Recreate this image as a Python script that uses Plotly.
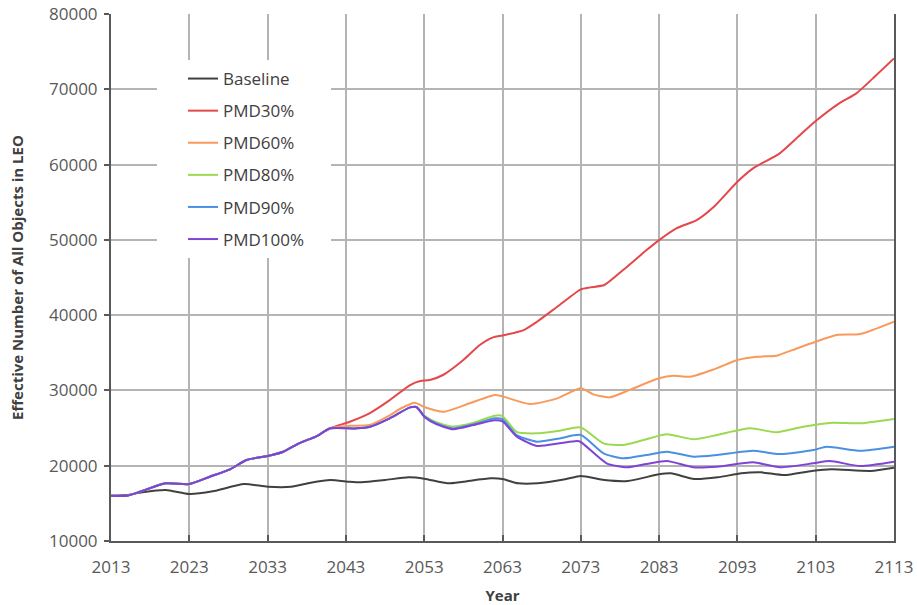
import plotly.graph_objects as go

# ---- data ----
common_years = [2013, 2015, 2016.7, 2020, 2023, 2025.6, 2028.2, 2030.3, 2033, 2035, 2037, 2039.3, 2041]
common_vals = [16000, 16000, 16550, 17660, 17570, 18540, 19520, 20760, 21290, 21860, 22970, 23940, 24970]

baseline_years = [2013, 2015, 2017, 2020, 2023, 2026, 2030, 2033, 2036, 2038.5, 2041, 2043.5, 2045, 2048,
                  2051, 2053, 2056, 2058, 2061.5, 2063, 2065, 2067.5, 2071, 2073, 2076, 2079, 2083, 2084.5,
                  2087.5, 2090.5, 2093.5, 2096, 2099, 2102.5, 2105, 2110, 2113]
baseline_vals = [16000, 16100, 16470, 16770, 16240, 16600, 17570, 17210, 17210, 17740, 18100, 17870, 17800, 18100,
                 18460, 18280, 17660, 17880, 18320, 18230, 17660, 17660, 18190, 18630, 18100, 17970, 18860, 18990,
                 18230, 18460, 18990, 19120, 18760, 19300, 19520, 19300, 19730]

pmd30_years = common_years + [2043.5, 2046, 2048.6, 2051.2, 2052.5, 2053.7, 2055.4, 2058, 2060.1, 2061.8, 2063,
                              2065.7, 2067.4, 2070, 2073, 2074.2, 2076, 2078.4, 2081.4, 2083, 2085.2, 2087.8, 2090,
                              2093, 2095, 2098.4, 2101, 2103, 2106, 2108.2, 2110.3, 2113]
pmd30_vals = common_vals + [25840, 26960, 28720, 30720, 31250, 31380, 32050, 34040, 36030, 37050, 37300,
                            38020, 39120, 41120, 43430, 43690, 44000, 45990, 48640, 49970, 51530, 52630, 54400,
                            57720, 59490, 61490, 63920, 65780, 68130, 69460, 71450, 74100]

pmd60_years = common_years + [2043.5, 2046, 2048.6, 2050, 2051.8, 2053, 2055.5, 2058.8, 2062, 2063, 2066.5, 2070,
                              2073, 2074.6, 2076.7, 2079.7, 2083, 2084.8, 2087, 2090, 2093, 2095.5, 2098, 2100,
                              2103, 2105.7, 2108.7, 2113]
pmd60_vals = common_vals + [25300, 25400, 26700, 27600, 28370, 27800, 27170, 28290, 29390, 29210, 28190, 28950,
                            30280, 29480, 29080, 30280, 31610, 31950, 31820, 32800, 34040, 34480, 34610, 35360,
                            36470, 37360, 37490, 39120]

pmd80_years = common_years + [2044.4, 2046.1, 2048.6, 2051.2, 2052, 2053.1, 2054.6, 2056.7, 2059.3, 2062, 2063,
                              2064.8, 2067.4, 2070.3, 2073, 2075.9, 2078.4, 2081, 2084, 2087.4, 2090.4, 2094.6,
                              2098, 2101.4, 2105.2, 2108.7, 2113]
pmd80_vals = common_vals + [24960, 25180, 26290, 27750, 27800, 26600, 25750, 25200, 25700, 26650, 26600,
                            24500, 24300, 24650, 25080, 22970, 22750, 23410, 24170, 23510, 24080, 24960,
                            24440, 25180, 25710, 25630, 26200]

pmd90_years = common_years + [2044.4, 2046.1, 2048.6, 2051.2, 2052, 2053.1, 2054.6, 2056.7, 2059.3, 2062, 2063,
                              2064.8, 2067.4, 2070.3, 2073, 2075.9, 2078.4, 2081.4, 2084, 2087.4, 2090.4, 2095,
                              2098.4, 2102.7, 2104.4, 2108.7, 2113]
pmd90_vals = common_vals + [24960, 25180, 26290, 27750, 27800, 26510, 25630, 24960, 25500, 26300, 26200,
                            24080, 23190, 23630, 24080, 21650, 20980, 21420, 21860, 21200, 21420, 21990,
                            21550, 22080, 22520, 21990, 22520]

pmd100_years = common_years + [2044.4, 2046.1, 2048.6, 2051.2, 2052, 2053.1, 2054.6, 2056.7, 2059.3, 2062, 2063,
                               2064.8, 2067.4, 2070.3, 2072.5, 2073, 2076.3, 2078.9, 2081.4, 2084, 2087.4, 2090.4,
                               2095, 2098.4, 2102.7, 2104.8, 2108.7, 2113]
pmd100_vals = common_vals + [24960, 25180, 26290, 27750, 27800, 26400, 25500, 24850, 25400, 26050, 25900,
                             23900, 22620, 22970, 23280, 23150, 20320, 19790, 20230, 20620, 19790, 19870,
                             20450, 19790, 20320, 20620, 19960, 20530]

series_names = ["Baseline", "PMD30%", "PMD60%", "PMD80%", "PMD90%", "PMD100%"]
series_years = [baseline_years, pmd30_years, pmd60_years, pmd80_years, pmd90_years, pmd100_years]
series_vals = [baseline_vals, pmd30_vals, pmd60_vals, pmd80_vals, pmd90_vals, pmd100_vals]
series_colors = ["#404040", "#e5474a", "#f79a5c", "#9bd94f", "#4a90e2", "#7f44d6"]

x_ticks = list(range(2013, 2114, 10))
y_ticks = list(range(10000, 80001, 10000))

fig = go.Figure()
for name, xs, ys, col in zip(series_names, series_years, series_vals, series_colors):
    fig.add_trace(go.Scatter(
        x=xs, y=ys, name=name, mode="lines", legendgroup=name,
        line=dict(color=col, width=2, shape="spline", smoothing=0.6),
    ))

tick_font = dict(family="Open Sans, sans-serif", size=17, color="#595959")
title_font = dict(family="Open Sans, sans-serif", size=15, color="#404040")

# white panel behind the legend (covers the grid like the reference's legend box)
L, R, T, B = 111, 23, 14, 64
pw, ph = 917 - L - R, 605 - T - B
fig.add_shape(
    type="rect", xref="paper", yref="paper", layer="above",
    x0=(157 - L) / pw, x1=(331 - L) / pw,
    y0=(605 - B - 258) / ph, y1=(605 - B - 60) / ph,
    fillcolor="white", line=dict(width=0),
)

fig.update_layout(
    width=917, height=605,
    margin=dict(l=L, r=R, t=T, b=B),
    paper_bgcolor="white", plot_bgcolor="white",
    showlegend=True,
    legend=dict(
        x=(183 - L) / pw, y=(605 - B - 61) / ph, xanchor="left", yanchor="top",
        bgcolor="rgba(0,0,0,0)", borderwidth=0,
        font=dict(family="Open Sans, sans-serif", size=17, color="#404040"),
        itemwidth=30, tracegroupgap=7,
    ),
    xaxis=dict(
        range=[2013, 2113], tickvals=x_ticks, ticktext=[str(v) for v in x_ticks],
        showgrid=True, gridcolor="#b4b4b4", gridwidth=1.5,
        showline=True, linecolor="#595959", linewidth=2,
        ticks="inside", ticklen=6, tickcolor="#595959", tickwidth=2,
        tickfont=tick_font, zeroline=False, ticklabelstandoff=10, automargin=False,
        title=dict(text="<b>Year</b>", font=title_font, standoff=13),
    ),
    yaxis=dict(
        range=[10000, 80000], tickvals=y_ticks, ticktext=[str(v) for v in y_ticks],
        showgrid=True, gridcolor="#b4b4b4", gridwidth=1.5,
        showline=True, linecolor="#595959", linewidth=2, mirror=True,
        ticks="outside", ticklen=5, tickcolor="#595959", tickwidth=2,
        tickfont=tick_font, zeroline=False, ticklabelstandoff=3, automargin=False,
        title=dict(text="<b>Effective Number of All Objects in LEO</b>", font=title_font, standoff=22),
    ),
)

fig.write_html("out.html")
